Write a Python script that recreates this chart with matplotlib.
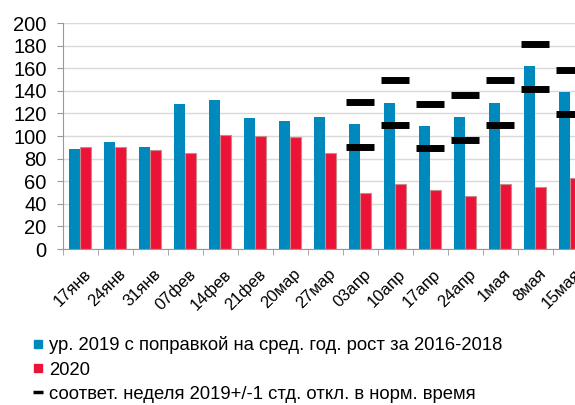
import matplotlib
matplotlib.use("Agg")
import matplotlib.pyplot as plt
import matplotlib.transforms as mtransforms
from matplotlib.lines import Line2D
import numpy as np

plt.rcParams['font.family'] = ['Liberation Sans', 'DejaVu Sans']

weeks = ["17янв", "24янв", "31янв", "07фев", "14фев", "21фев", "20мар", "27мар",
         "03апр", "10апр", "17апр", "24апр", "1мая", "8мая", "15мая"]
lvl_2019 = [88.5, 94.7, 90.5, 128.6, 132, 115.6, 113.5, 116.8,
            110.3, 129.5, 108.6, 116.5, 129.5, 161.6, 138.6]
lvl_2020 = [90, 90, 87.3, 85, 100.6, 100, 99.4, 85,
            49.6, 57.2, 52.5, 46.6, 57.8, 54.6, 63.1]
# +/- 1 std band, only for april-may weeks
band_hi = [None] * 8 + [130.4, 149.6, 128.6, 136.3, 149.6, 181.7, 158.7]
band_lo = [None] * 8 + [90.6, 110, 89.1, 96.8, 110, 141.9, 119.2]

lbl_2019 = "ур. 2019 с поправкой на сред. год. рост за 2016-2018"
lbl_2020 = "2020"
lbl_band = "соответ. неделя 2019+/-1 стд. откл. в норм. время"

blue = "#0089BD"
red = "#EC1339"

fig = plt.figure(figsize=(5.75, 4.05), dpi=100)
ax = fig.add_axes([0.109, 0.385, 0.913, 0.558])

x = np.arange(len(weeks))
w = 0.32
ax.bar(x - w / 2, lvl_2019, w, color=blue, zorder=2)
ax.bar(x + w / 2, lvl_2020, w, color=red, edgecolor="#c98a8a", linewidth=0.8, zorder=2)

bx = [i for i, v in enumerate(band_hi) if v is not None]
ax.plot(bx, [band_hi[i] for i in bx], ls="none", marker="_", ms=20.5, mew=5, color="black", zorder=3)
ax.plot(bx, [band_lo[i] for i in bx], ls="none", marker="_", ms=20.5, mew=5, color="black", zorder=3)

ax.set_xlim(-0.5, len(weeks) - 0.5)
ax.set_ylim(0, 200)
ax.set_yticks(range(0, 201, 20))
ax.tick_params(axis="y", labelsize=14.5, length=4.5, color="#999999", pad=7)
ax.grid(axis="y", color="#d9d9d9", lw=1, zorder=0)

ax.set_xticks(x)
ax.set_xticklabels(weeks, rotation=45, ha="right", rotation_mode="anchor", fontsize=12)
ax.tick_params(axis="x", which="major", length=0, pad=12.5)
shift = mtransforms.ScaledTranslation(3 / 100, 0, fig.dpi_scale_trans)
for t in ax.get_xticklabels():
    t.set_transform(t.get_transform() + shift)
ax.set_xticks(np.arange(-0.5, len(weeks), 1), minor=True)
ax.tick_params(axis="x", which="minor", length=4.5, color="#999999")

for s in ["top", "right"]:
    ax.spines[s].set_visible(False)
for s in ["left", "bottom"]:
    ax.spines[s].set_color("#999999")

handles = [
    Line2D([], [], ls="none", marker="s", ms=5.5, color=blue),
    Line2D([], [], ls="none", marker="s", ms=5.5, color=red),
    Line2D([], [], ls="none", marker="_", ms=7, mew=2.5, color="black"),
]
fig.legend(handles, [lbl_2019, lbl_2020, lbl_band], loc="upper left",
           bbox_to_anchor=(0.056, 0.170), bbox_transform=fig.transFigure,
           frameon=False, fontsize=13.3, handlelength=0.6, handletextpad=0.3,
           labelspacing=0.4, borderpad=0, borderaxespad=0)
fig.savefig("out.png", dpi=100)
